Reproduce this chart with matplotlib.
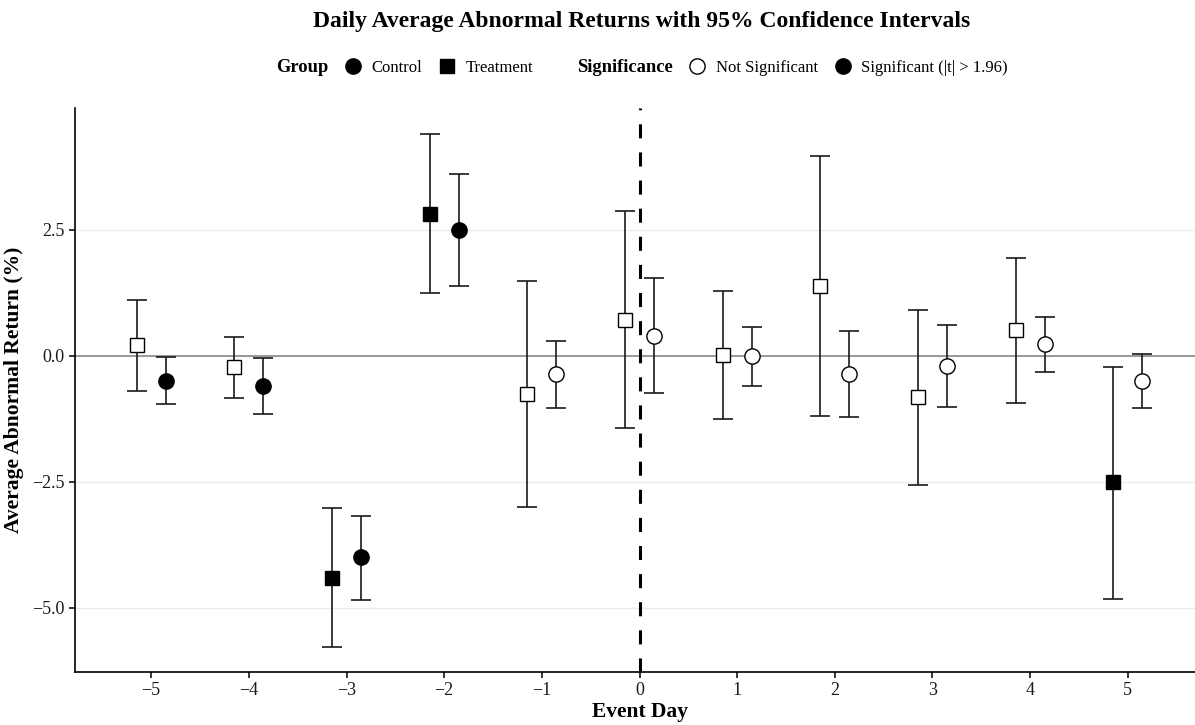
import numpy as np
import matplotlib
matplotlib.use("Agg")
import matplotlib.pyplot as plt
from matplotlib.lines import Line2D

plt.rcParams['font.family'] = ['Liberation Serif', 'DejaVu Serif']

# event days and the two groups (in %)
days = np.arange(-5, 6)

treat_ar = [0.22, -0.22, -4.40, 2.82, -0.76, 0.72, 0.02, 1.38, -0.82, 0.51, -2.50]
treat_lo = [-0.69, -0.83, -5.77, 1.24, -3.00, -1.43, -1.25, -1.20, -2.56, -0.94, -4.82]
treat_hi = [1.11, 0.38, -3.02, 4.40, 1.48, 2.87, 1.29, 3.96, 0.91, 1.95, -0.21]
treat_sig = [False, False, True, True, False, False, False, False, False, False, True]

ctrl_ar = [-0.50, -0.60, -3.99, 2.50, -0.36, 0.40, 0.00, -0.36, -0.19, 0.23, -0.50]
ctrl_lo = [-0.95, -1.15, -4.84, 1.39, -1.03, -0.73, -0.59, -1.22, -1.01, -0.32, -1.03]
ctrl_hi = [-0.03, -0.04, -3.17, 3.61, 0.30, 1.55, 0.58, 0.50, 0.61, 0.78, 0.03]
ctrl_sig = [True, True, True, True, False, False, False, False, False, False, False]

yticks = [-5.0, -2.5, 0.0, 2.5]

fig = plt.figure(figsize=(11.95, 7.25), dpi=100)
ax = fig.add_axes([75 / 1195, 53 / 725, 1129 / 1195, 564 / 725])

dodge = 0.15
groups = [
    (days - dodge, treat_ar, treat_lo, treat_hi, treat_sig, 's', 9.5),
    (days + dodge, ctrl_ar, ctrl_lo, ctrl_hi, ctrl_sig, 'o', 11),
]

ax.axhline(0, color='#808080', lw=1.1, zorder=1)
ax.axvline(0, color='black', lw=2.2, linestyle=(0, (4.6, 4.6)), zorder=2)

for x, ar, lo, hi, sig, mk, ms in groups:
    ar = np.array(ar)
    err = np.vstack([ar - np.array(lo), np.array(hi) - ar])
    ax.errorbar(x, ar, yerr=err, fmt='none', ecolor='#1a1a1a', elinewidth=1.2,
                capsize=7.2, capthick=1.2, zorder=3)
    faces = ['black' if s else 'white' for s in sig]
    for xi, yi, fc in zip(x, ar, faces):
        ax.plot(xi, yi, marker=mk, markersize=ms, markerfacecolor=fc,
                markeredgecolor='black', markeredgewidth=1.0, linestyle='none', zorder=4)

ax.set_xlim(-5.78, 5.78)
ax.set_ylim(-6.27, 4.92)
ax.set_xticks(days)
ax.set_yticks(yticks)
ax.set_yticklabels([f"{v:.1f}".replace('-', '\u2212') for v in yticks])
ax.yaxis.grid(True, color='#ebebeb', lw=0.9, zorder=0)
ax.set_axisbelow(True)

for s in ['top', 'right']:
    ax.spines[s].set_visible(False)
for s in ['left', 'bottom']:
    ax.spines[s].set_linewidth(1.2)
ax.tick_params(axis='both', labelsize=13, length=4, width=1.1, color='black', labelcolor='#1a1a1a')

ax.set_xlabel('Event Day', fontsize=15.5, fontweight='bold', labelpad=2)
ax.set_ylabel('Average Abnormal Return (%)', fontsize=15.5, fontweight='bold', labelpad=6)

fig.suptitle('Daily Average Abnormal Returns with 95% Confidence Intervals',
             fontsize=17, fontweight='bold', x=0.537, y=0.985)

blank = Line2D([], [], linestyle='none')
handles = [
    blank,
    Line2D([], [], marker='o', color='black', linestyle='none', markersize=11),
    Line2D([], [], marker='s', color='black', linestyle='none', markersize=10),
    blank,
    Line2D([], [], marker='o', markerfacecolor='white', markeredgecolor='black',
           linestyle='none', markersize=11),
    Line2D([], [], marker='o', color='black', linestyle='none', markersize=11),
]
labels = ['Group', 'Control', 'Treatment', 'Significance', 'Not Significant',
          'Significant (|t| > 1.96)']
leg = fig.legend(handles, labels, ncol=6, loc='center', bbox_to_anchor=(0.526, 0.907),
                 frameon=False, fontsize=12, handlelength=1.0, handletextpad=0.6,
                 columnspacing=1.0)
for i in (0, 3):
    leg.get_texts()[i].set_fontweight('bold')
    leg.get_texts()[i].set_fontsize(13.3)

fig.savefig('out.png', dpi=100)
